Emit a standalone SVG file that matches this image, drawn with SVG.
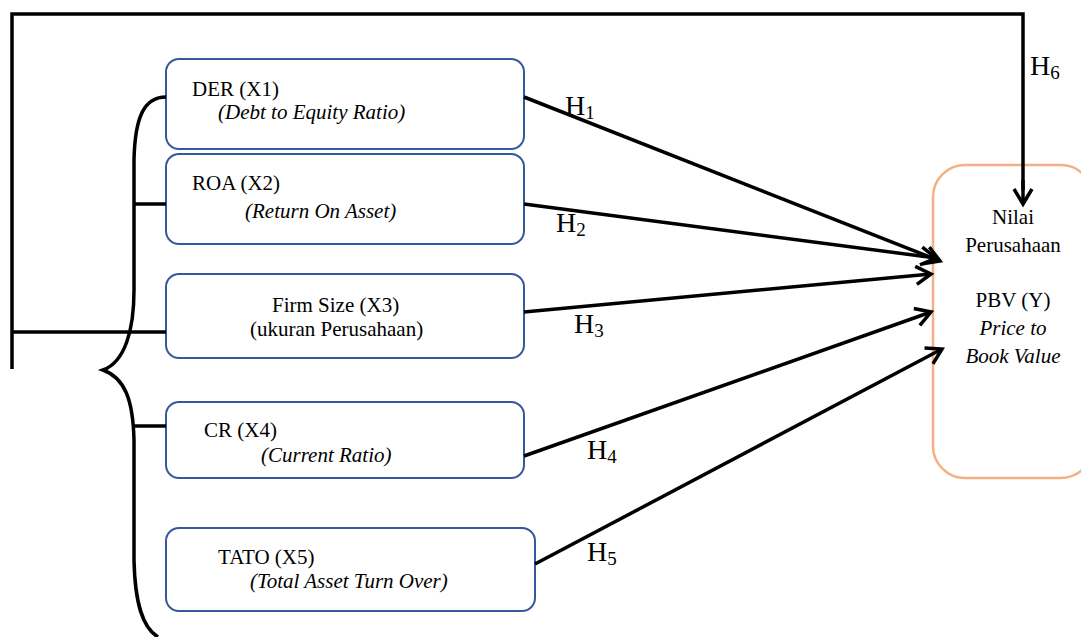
<svg xmlns="http://www.w3.org/2000/svg" width="1081" height="637" viewBox="0 0 1081 637">
  <defs>
    <style>
      .box { fill: #ffffff; stroke: #34599c; stroke-width: 2; }
      .ybox { fill: #ffffff; stroke: #f4b183; stroke-width: 2.5; }
      .t { font-family: "Liberation Serif", "Times New Roman", serif; font-size: 21px; fill: #000; }
      .i { font-style: italic; }
      .h { font-family: "Liberation Serif", "Times New Roman", serif; font-size: 28px; fill: #000; }
      .sub { font-size: 19px; }
      .ln { fill: none; stroke: #000; stroke-width: 3.5; }
      .arr { fill: none; stroke: #000; stroke-width: 3.5; marker-end: url(#chev); }
    </style>
    <marker id="chev" viewBox="0 0 18 20" refX="16" refY="10" markerWidth="18" markerHeight="20" markerUnits="userSpaceOnUse" orient="auto" overflow="visible">
      <path d="M1,1 L16,10 L1,19" fill="none" stroke="#000" stroke-width="3.5"/>
    </marker>
  </defs>

  <g id="der">
    <rect class="box" x="166" y="59" width="358" height="90" rx="13"/>
    <text class="t" x="192" y="96">DER (X1)</text>
    <text class="t i" x="218" y="119">(Debt to Equity Ratio)</text>
  </g>
  <g id="roa">
    <rect class="box" x="166" y="154" width="358" height="90" rx="13"/>
    <text class="t" x="192" y="190">ROA (X2)</text>
    <text class="t i" x="245" y="218">(Return On Asset)</text>
  </g>
  <g id="firm-size">
    <rect class="box" x="166" y="274" width="358" height="84" rx="13"/>
    <text class="t" x="272" y="312">Firm Size (X3)</text>
    <text class="t" x="250" y="336">(ukuran Perusahaan)</text>
  </g>
  <g id="cr">
    <rect class="box" x="166" y="402" width="358" height="76" rx="13"/>
    <text class="t" x="204" y="437">CR (X4)</text>
    <text class="t i" x="261" y="462">(Current Ratio)</text>
  </g>
  <g id="tato">
    <rect class="box" x="166" y="528" width="369" height="83" rx="13"/>
    <text class="t" x="218" y="564">TATO (X5)</text>
    <text class="t i" x="250" y="588">(Total Asset Turn Over)</text>
  </g>
  <g id="pbv">
    <rect class="ybox" x="933" y="165" width="160" height="313" rx="32"/>
    <text class="t" x="1013" y="224" text-anchor="middle">Nilai</text>
    <text class="t" x="1013" y="252" text-anchor="middle">Perusahaan</text>
    <text class="t" x="1013" y="307" text-anchor="middle">PBV (Y)</text>
    <text class="t i" x="1013" y="335" text-anchor="middle">Price to</text>
    <text class="t i" x="1013" y="363" text-anchor="middle">Book Value</text>
  </g>

  <!-- connectors: outer loop, brace, branches and hypothesis arrows -->
  <g id="connectors">
    <path class="ln" d="M12,369 L12,14 L1023,14 L1023,190"/>
    <path class="arr" d="M1023,180 L1023,204"/>
    <path class="ln" d="M12,332 L166,332"/>
    <path class="ln" d="M166,97 C145,97 135,115 134,160 L134,290 C134,330 125,362 103,370 C125,378 133,400 134,440 L134,560 C135,605 143,628 158,637"/>
    <path class="ln" d="M134,204 L166,204"/>
    <path class="ln" d="M134,426 L166,426"/>
    <path class="arr" d="M524,97 L940,261"/>
    <path class="arr" d="M524,204 L936,258"/>
    <path class="arr" d="M524,312 L931,274"/>
    <path class="arr" d="M524,456 L931,312"/>
    <path class="arr" d="M535,564 L942,349"/>
  </g>

  <g id="labels">
    <text class="h" x="565" y="115">H<tspan class="sub" dy="4">1</tspan></text>
    <text class="h" x="556" y="232">H<tspan class="sub" dy="4">2</tspan></text>
    <text class="h" x="574" y="333">H<tspan class="sub" dy="4">3</tspan></text>
    <text class="h" x="587" y="459">H<tspan class="sub" dy="4">4</tspan></text>
    <text class="h" x="587" y="561">H<tspan class="sub" dy="4">5</tspan></text>
    <text class="h" x="1030" y="75">H<tspan class="sub" dy="4">6</tspan></text>
  </g>
</svg>
